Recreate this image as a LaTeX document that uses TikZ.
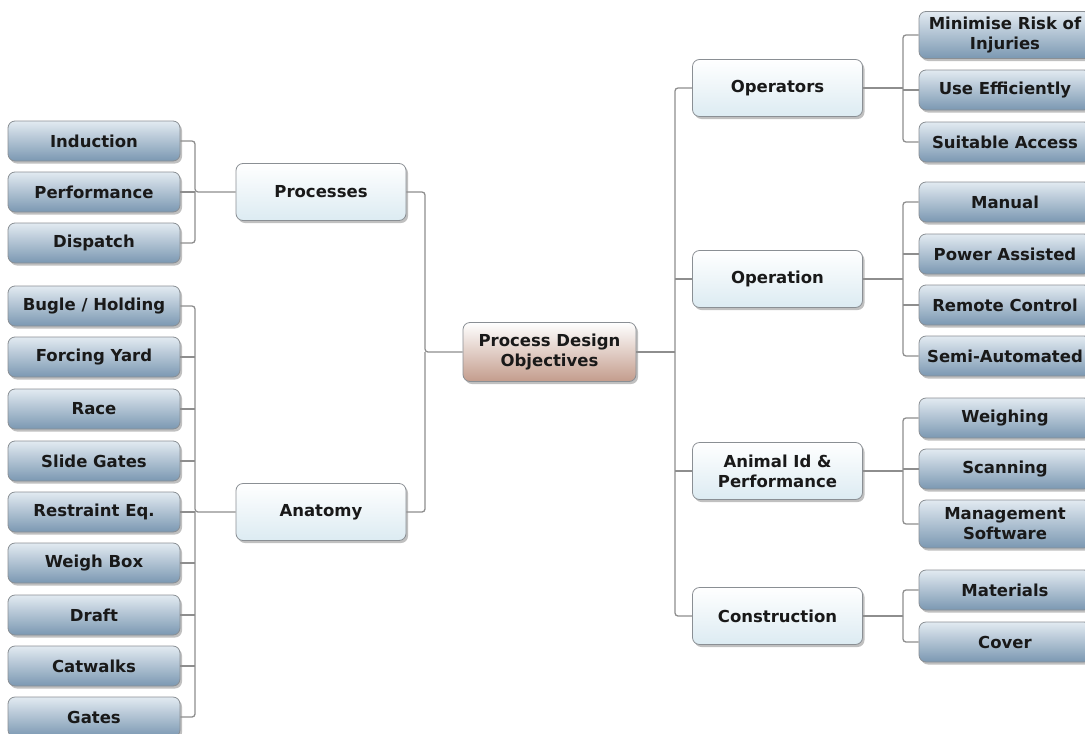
\documentclass[tikz,border=0pt]{standalone}
\usepackage{fontspec}
\setmainfont{DejaVu Sans}
\usetikzlibrary{shadows,calc}
\definecolor{leaftop}{HTML}{E2EAF1}
\definecolor{leafbot}{HTML}{7B98B2}
\definecolor{midtop}{HTML}{FFFFFF}
\definecolor{midbot}{HTML}{DCEBF2}
\definecolor{ctop}{HTML}{FFFFFF}
\definecolor{cbot}{HTML}{C39C8C}
\definecolor{conncol}{HTML}{8E8E8E}
\definecolor{bordcol}{HTML}{8A8F94}
\tikzset{
  basebox/.style={draw=bordcol, line width=0.8pt, rounded corners=7pt, align=center,
    font=\bfseries\fontsize{16.5}{20}\selectfont, inner sep=0pt, text=black!90,
    drop shadow={shadow xshift=2pt, shadow yshift=-2.5pt, opacity=0.45, fill=black!55}},
  leaf/.style={basebox, minimum width=172pt, minimum height=40pt,
    top color=leaftop, bottom color=leafbot},
  mid/.style={basebox, minimum width=170pt, minimum height=57pt,
    top color=midtop, bottom color=midbot},
  center/.style={basebox, minimum width=173pt, minimum height=59pt,
    top color=ctop, bottom color=cbot},
  conn/.style={draw=conncol, line width=1.3pt, rounded corners=3pt}
}
\begin{document}
\begin{tikzpicture}[x=1pt,y=-1pt]
\useasboundingbox (0,0) rectangle (1085,734);
% center
\node[center] (pdo) at (549.5,352) {Process Design\\Objectives};
% middle left
\node[mid] (proc) at (321,192) {Processes};
\node[mid] (anat) at (321,512) {Anatomy};
% middle right
\node[mid] (ops) at (777.5,88) {Operators};
\node[mid] (opn) at (777.5,279) {Operation};
\node[mid] (aid) at (777.5,471) {Animal Id \&\\Performance};
\node[mid] (con) at (777.5,616) {Construction};
% left leaves
\node[leaf] (ind) at (94,141) {Induction};
\node[leaf] (perf) at (94,192) {Performance};
\node[leaf] (disp) at (94,243) {Dispatch};
\node[leaf] (bug) at (94,306) {Bugle / Holding};
\node[leaf] (fy) at (94,357) {Forcing Yard};
\node[leaf] (race) at (94,409) {Race};
\node[leaf] (sg) at (94,461) {Slide Gates};
\node[leaf] (re) at (94,512) {Restraint Eq.};
\node[leaf] (wb) at (94,563) {Weigh Box};
\node[leaf] (dr) at (94,615) {Draft};
\node[leaf] (cw) at (94,666) {Catwalks};
\node[leaf] (gt) at (94,717) {Gates};
% right leaves
\node[leaf, minimum height=47pt] (min) at (1005,35) {Minimise Risk of\\Injuries};
\node[leaf] (use) at (1005,90) {Use Efficiently};
\node[leaf] (suit) at (1005,142) {Suitable Access};
\node[leaf] (man) at (1005,202) {Manual};
\node[leaf] (pa) at (1005,254) {Power Assisted};
\node[leaf] (rc) at (1005,305) {Remote Control};
\node[leaf] (sa) at (1005,356) {Semi-Automated};
\node[leaf] (wei) at (1005,418) {Weighing};
\node[leaf] (sca) at (1005,469) {Scanning};
\node[leaf, minimum height=48pt] (ms) at (1005,524) {Management\\Software};
\node[leaf] (mat) at (1005,590) {Materials};
\node[leaf] (cov) at (1005,642) {Cover};
% bus coordinates
\coordinate (bp) at (195,192);
\coordinate (ba) at (195,512);
\coordinate (bc) at (425,352);
\coordinate (br) at (675,352);
\coordinate (r1) at (903,88);
\coordinate (r2) at (903,279);
\coordinate (r3) at (903,471);
\coordinate (r4) at (903,616);
% processes
\draw[conn] (ind.east) -| (bp) -- (proc.west);
\draw[conn] (disp.east) -| (bp);
\draw[conn] (perf.east) -- (bp);
% anatomy
\draw[conn] (bug.east) -| (ba) -- (anat.west);
\draw[conn] (gt.east) -| (ba);
\foreach \n in {fy,race,sg,re,wb,dr,cw} \draw[conn] (\n.east) -- (ba |- \n.east);
% center left
\draw[conn] (proc.east) -| (bc) -- (pdo.west);
\draw[conn] (anat.east) -| (bc);
% center right
\draw[conn] (pdo.east) -- (br);
\draw[conn] (br) |- (ops.west);
\draw[conn] (br) |- (con.west);
\draw[conn] (br |- opn.west) -- (opn.west);
\draw[conn] (br |- aid.west) -- (aid.west);
% operators
\draw[conn] (ops.east) -- (r1);
\draw[conn] (r1) |- (min.west);
\draw[conn] (r1) |- (suit.west);
\draw[conn] (r1 |- use.west) -- (use.west);
% operation
\draw[conn] (opn.east) -- (r2);
\draw[conn] (r2) |- (man.west);
\draw[conn] (r2) |- (sa.west);
\draw[conn] (r2 |- pa.west) -- (pa.west);
\draw[conn] (r2 |- rc.west) -- (rc.west);
% animal id
\draw[conn] (aid.east) -- (r3);
\draw[conn] (r3) |- (wei.west);
\draw[conn] (r3) |- (ms.west);
\draw[conn] (r3 |- sca.west) -- (sca.west);
% construction
\draw[conn] (con.east) -- (r4);
\draw[conn] (r4) |- (mat.west);
\draw[conn] (r4) |- (cov.west);
\end{tikzpicture}
\end{document}
